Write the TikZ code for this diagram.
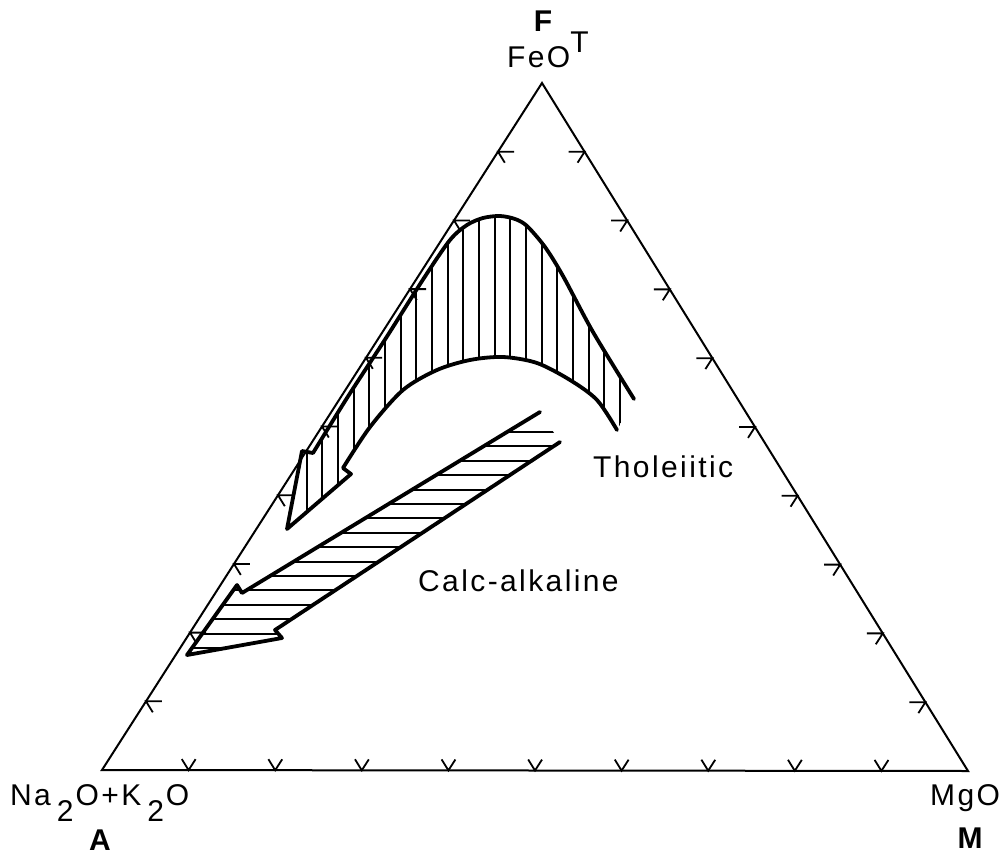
\documentclass[tikz,border=0pt]{standalone}
\usepackage{fontspec}
\newfontfamily\labelfont[LetterSpace=8]{Liberation Sans}
\usetikzlibrary{calc}
\tikzset{
  side/.style={line width=2pt},
  tickmark/.style={line width=1.8pt},
  bandline/.style={line width=3.8pt,line join=round,line cap=round},
  hatchline/.style={line width=1.9pt},
  lbl/.style={font=\labelfont\fontsize{30}{32}\selectfont,inner sep=0pt},
  lblbold/.style={font=\labelfont\bfseries\fontsize{30}{32}\selectfont,inner sep=0pt}
}
\begin{document}
\begin{tikzpicture}[x=1pt,y=-1pt]
\useasboundingbox (0,0) rectangle (1007,859);
\coordinate (A) at (102,770);
\coordinate (M) at (968,771);
\coordinate (F) at (542,83);

\draw[side] (A) -- (M) -- (F) -- cycle;
\foreach \i in {1,...,9} {
  \draw[tickmark] ($(A)!\i/10!(F)$) ++(16,0) -- ++(-16,0) -- ++(6.8,11);
  \draw[tickmark] ($(F)!\i/10!(M)$) ++(-16,0) -- ++(16,0) -- ++(-7,10.9);
  \draw[tickmark] ($(A)!\i/10!(M)$) ++(-6.8,-11) -- ++(6.8,11) -- ++(7,-10.9);
}

\begin{scope}
\clip plot[smooth] coordinates {(313,453) (347,398) (386,338) (424,278) (450,240) (467,225) (483,218) (500,216) (515,219) (527,226) (545,247) (563,276) (593,332) (634,399)}
  -- plot[smooth] coordinates {(617,430) (597,400) (570,380) (537,363) (503,357) (470,360) (437,370) (403,390) (370,427) (343,468)}
  -- (351,474) -- (287,529) -- (302,451) -- cycle;
\foreach \x in {306.7,322.37,...,621} \draw[hatchline] (\x,200) -- (\x,540);
\end{scope}
\draw[bandline] plot[smooth] coordinates {(634,399) (593,332) (563,276) (545,247) (527,226) (515,219) (500,216) (483,218) (467,225) (450,240) (424,278) (386,338) (347,398) (313,453)}
  -- (302,451) -- (287,529) -- (351,474)
  -- plot[smooth] coordinates {(343,468) (370,427) (403,390) (437,370) (470,360) (503,357) (537,363) (570,380) (597,400) (617,430)};

\begin{scope}
\clip (540,412) -- (242,593) -- (237,585) -- (187,655) -- (282,638) -- (275,630) -- (560,442) -- cycle;
\foreach \y in {432,446.4,...,650} \draw[hatchline] (150,\y) -- (600,\y);
\end{scope}
\draw[bandline] (540,412) -- (242,593) -- (237,585) -- (187,655) -- (282,638) -- (275,630) -- (560,442);

\node[lblbold,anchor=base] (Flbl) at (543,32) {F};
\node[lbl,anchor=base west] (feo) at (507,68) {FeO\raisebox{0.5em}{T}};
\node[lbl,anchor=base west] (nak) at (10,805) {Na\hspace{6pt}\raisebox{-0.55em}{2}\hspace{2pt}O+K\hspace{6pt}\raisebox{-0.55em}{2}\hspace{2pt}O};
\node[lblbold,anchor=base] (Albl) at (100,850) {A};
\node[lbl,anchor=base west] (mgo) at (930,805) {MgO};
\node[lblbold,anchor=base] (Mlbl) at (970,848) {M};
\node[lbl,anchor=base west] (thol) at (593,477) {Tholeiitic};
\node[lbl,anchor=base west] (calc) at (418,591) {Calc-alkaline};
\end{tikzpicture}
\end{document}
